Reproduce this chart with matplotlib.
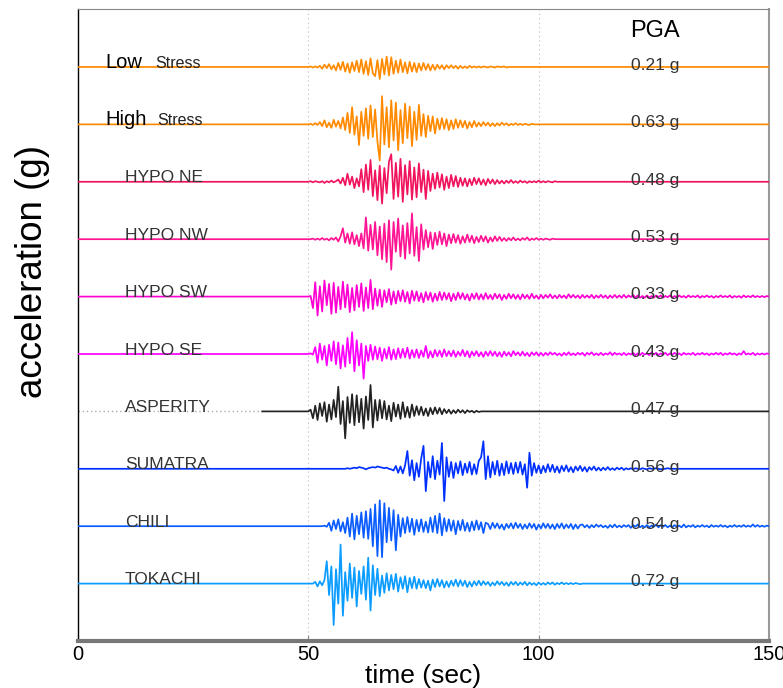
import numpy as np
import matplotlib
matplotlib.use("Agg")
import matplotlib.pyplot as plt

# ---------------- data (accelerations in hundredths of g, sampled every 0.5 s) ----------------
dt = 0.5
names = ["Low", "High", "HYPO NE", "HYPO NW", "HYPO SW", "HYPO SE",
         "ASPERITY", "SUMATRA", "CHILI", "TOKACHI"]
pga_labels = ["0.21 g", "0.63 g", "0.48 g", "0.53 g", "0.33 g", "0.43 g",
              "0.47 g", "0.56 g", "0.54 g", "0.72 g"]
colors = ["#ff8a00", "#ff8a00", "#f0145f", "#ff1493", "#ff00d2", "#ff00ff",
          "#222222", "#0030ff", "#0a5cff", "#0a9cff"]
record_start = [0, 0, 0, 0, 0, 0, 40, 0, 0, 0]
record_end = [150, 150, 150, 150, 150, 150, 150, 150, 150, 150]
window_start = [50, 50, 50, 50, 50, 50, 50, 58, 53, 51]

low_stress = [0, 1, -1, 1, -1,
              2, -3, 4, -2, 5, -4, 3, -6,
              7, -5, 9, -8, 6, -10, 8, -7,
              11, -9, 13, -12, 10, -14, 15, -11, -16, 12,
              -21, 14, -13, 18, -15, 17,
              -12, 11, -10, 13, -9, 8, -11, 9,
              -8, 7, -9, 6, -6, 7, -5, 5,
              -6, 4, -5, 4, -3, 3, -4, 3,
              -2, 3, -2, 2, -3, 2, -2, 1, -2, 2, -1, 1,
              -1, 1, -1, 1, 0, -1, 1, 0, -1, 1, 0, 0, 1, -1, 0, 0, 0, 0]
high_stress = [0, 1, -1, 2, -1,
               4, -3, 7, -5, 3, -6, 8, -4, 6, -7,
               12, -10, 20, -15, 30, -18, 14, -36, 22,
               -20, 28, -25, 33, -22, 26, -30,
               -63,
               49, -35, 30, -40, 42, -28, 38, -45, 25,
               -33, 36, -24, 31, -38, 22, -27, 34, -20,
               18, -22, 15, -12, 14, -16,
               10, -9, 11, -8, 9, -10, 7, -8, 9,
               -6, 7, -5, 6, -7, 4, -5, 6, -4, 3,
               -3, 4, -2, 3, -3, 2, -3, 2, -2, 3, -1, 2, -2, 1, -1, 2,
               -1, 1, -1, 1, 0, -1, 1, 0, 0, 0]
hypo_ne = [0, 1, -1, 1, 0, -1, 1, -2, 1, -1, 2, -1, 1,
           4, -3, 7, -6, 14, -5, 9, -11, 6, -8,
           22, -18, 30, -14, 38, -25, 20, -32, 28, -38,
           24, -20, 35, 48, -30, 33, -26, 40,
           -35, 29, -22, 36, -31, 25, -27, 32, -18, 21, -30, 19, -16,
           14, -12, 16, -10, 13, -14, 9, -11, 12, -8, 10, -9, 7,
           -7, 6, -8, 5, -6, 7, -4, 6, -5, 4, -6, 5, -3, 4, -4, 3,
           -3, 2, -3, 2, -2, 3,
           -2, 1, -2, 2, -1, 1, -2, 1, -1, 1, -1, 2, -1, 1, -1, 1, 0, -1, 1, 0, 0, 0]
hypo_nw = [0, 0, 1, -1, 1, -1, 2, -1, 1, -2, 2, -1, 3,
           -4, 5, 19, -6, 10, -8, 12, -9, 7, -12, 10,
           -16, 38, -20, 25, -18, 30, -28, 22, -35,
           27, -40, 33, -53, 30, -22, 36, -30, 24,
           -34, 28, -25, 45, -29, 21, -38, 26,
           -18, 16, -14, 12, -17, 11, -10, 13, -9, 10, -12,
           8, -7, 9, -6, 7, -8, 5, -6, 8, -5, 6, -7, 4, -5, 6, -4, 5, -6, 3, -4, 5, -3, 4, -3,
           2, -3, 2, -2, 3, -2, 1, -2, 2, -1, 3, -2, 1, -1, 2, -1, 1, -1, 1, 0, -1, 1, 0, 0]
hypo_sw = [0, 1,
           -20, 25, -33, 18, -26, 28, -15, 22, -30,
           24, -28, 17, -22, 26, -19, 21, -27, 15, -24,
           20, -18, 23, -25, 16, -20, 29, -22,
           14, -16, 12, -18, 11, -10, 13, -14, 9, -12, 10, -8,
           11, -9, 8, -12, 10, -7, 9, -8, 6, -10, 8, -6, 7, -9, 5, -7,
           8, -6, 7, -5, 6, -8, 5, -6, 7, -4, 6, -5, 4, -7, 5, -4, 6, -5,
           4, -5, 6, -4, 3, -5, 5, -3, 4, -6, 3, -4, 5, -3, 4, -4, 3, -5, 4, -3, 3, -4, 5, -3, 2, -4, 3, -3,
           3, -2, 4, -3, 2, -3, 3, -2, 2, -3, 4, -2, 3, -2, 2, -3, 3, -2, 2, -2, 3, -3,
           2, -2, 3, -2, 2, -3, 2, -2, 3, -2, 2, -2, 3, -2, 2, -1, 3, -2, 2, -2, 1, -2,
           2, -2, 1, -2, 2, -1, 2, -2, 1, -1, 2, -2, 1, -2, 2, -1, 1, -2, 2, -1, 1, -1, 2, -2, 1, -1, 2,
           -1, 1, -2, 1, -1, 2, -1, 1, -1, 2, -2, 1, -1, 1, -2, 2, -1, 1, -1, 2, -1, 1, -1, 1, -1, 1, 0]
hypo_se = [0, 1, -1,
           12, -15, 18, -10, 14, -20, 16, -12, 22, -18,
           20, -25, 15, -22, 28, -16, 38, -30, 24, -20, 18, -43,
           14, -12, 16, -10, 13, -9, 11, -12, 9, -8, 12, -10,
           8, -9, 10, -7, 9, -6, 11, -8, 7, -6, 8, -7,
           6, -5, 14, -7, 5, -6, 7, -4, 6, -5, 8, -4,
           5, -4, 6, -5, 4, -3, 7, -4, 5, -6, 4, -3, 5, -4, 3, -5, 4, -3, 5, -3,
           4, -4, 3, -5, 4, -3, 3, -4, 5, -2, 3, -3, 4, -3, 2, -4, 3, -2, 3, -3,
           2, -3, 2, -2, 3, -1, 2, -2, 1, -3, 2, -2, 3, -2, 1, -2, 2, -1, 2, -3,
           2, -1, 3, -2, 1, -2, 2, -2, 1, -1, 3, -2, 2, -1, 1, -2, 2, -2, 1, -1,
           2, -2, 1, -2, 2, -1, 1, -2, 3, -1, 2, -2, 1, -1, 2, -2, 1, -1, 2, -1,
           1, -2, 2, -1, 1, -1, 2, -2, 1, -1, 2, -1, 1, -2, 1, -1, 2, -1, 2, -2,
           1, -1, 2, -1, 1, -2, 1, -1, 5, -1, 1, -1, 2, -2, 1, -1, 1, -1, 1, 0]
asperity = [0, 3,
            -12, 10, -15, 14, -8, 16, -18, 12, -14, 20, -10,
            43, -22, 18, -47, 25, -20, 30, -24,
            28, -19, 22, -30, 26, -15, 46, -28, 20,
            -16, 20, -12, 18, -14, 10, -17, 15, -9, 12, -13, 16, -10, 8, -11, 12,
            -8, 9, -6, 8, -7, 5, -8, 6, -5, 7, -4, 6, -5, 4, -3,
            3, -4, 2, -3, 3, -2, 2, -3, 2, -1, 1, -2, 1, -1, 0, 0]
sumatra = [0, 1, 0, 1, 2, 1, 3, 2, 1, -1, 1, 2, 3, 2, 4, 3, 2, 1, 2, 0, -1,
           -3, 5, -7, 4, -8, 6,
           31, -12, 15, -20, 10, -14, 18,
           40, -39, 12, -15, 22, -18, 14, -10,
           45, -56,
           20, -14, 12, -16, 10, -8, 13, -11, 9, -7, 12, -10, 8, -9, 14, 20,
           48, -18, 22, -15, 12, -10, 14, -12, 9, -11, 13, -8, 10, -9, 11, -7, 12, -10, 8, -33, 28, -12, 10,
           -7, 6, -8, 5, -6, 8, -5, 7, -6, 4, -7, 5, -4, 6, -5, 3, -6, 4, -3, 5, -4, 3, -5, 3, -2, 4,
           -3, 2, -3, 2, -2, 3, -2, 1, -2, 2, -1, 2, -2, 1, -1, 1,
           -1, 1, 0, -1, 1, 0, -1, 1, 0, 0, 1, 0, -1, 0, 0, 1, 0, 0, 0, 0]
chili = [0, 1, -1,
         6, -8, 10, -5, 12, -9, 7, -12,
         15, -18, 22, -23, 18, -14, 24, -20,
         26, -22, 30, -35, 38, -52, 45, -54,
         40, -28, 32, -25, 28, -42, 20, -18,
         14, -12, 16, -10, 13, -15, 11, -9, 12, -10, 8, -11,
         15, -10, 18, -12, 22, -16, 14, -9,
         12, -8, 10, -14, 9, -7, 11, -8, 6, -9, 8, -7, 10, -6, 7, -12, 6,
         4, -5, 6, -3, 5, -4, 3, -6, 4, -3, 5, -4, 6, -3, 4, -5, 3, -4, 5, -3,
         4, -6, 3, -4, 5, -3, 4, -4, 3, -5, 4, -3, 5, -4, 3, -3, 4, -5, 3, -4, 2,
         3, -2, 2, -3, 2, -2, 3, -1, 2, -2, 1, -3, 2, -2, 3, -2, 1, -2, 2, -1,
         2, -3, 2, -1, 3, -2, 1, -2, 2, -2, 1, -1, 3, -2, 2, -1, 2, -2, 1, -2,
         2, -1, 1, -2, 3, -2, 1, -1, 2, -2, 1, -1, 2, -1, 1, -2, 2, -1, 1, -1,
         2, -1, 1, -2, 1, -1, 2, -1, 1, -1, 2, -1, 1, -1, 3, -1, 2, -1, 1, -1,
         1, 0]
tokachi = [0, 3, -5, 4, -3, 6,
           39, -20, 30, -72, 25, -35, 68, -56,
           20, -30, 35, -25, 28, -40, 22, -18, 30, -28, 45, -47, 32, -20, 26, -22,
           14, -16, 18, -12, 15, -10, 17, -14, 11, -9, 13, -15, 10, -8, 12, -9, 8,
           -7, 6, -8, 5, -12, 7, -6, 8, -5, 6, -7, 4, -6, 5, -4, 7, -5, 6, -4, 5, -6, 3, -5, 4, -3, 5,
           -3, 4, -2, 3, -4, 2, -3, 4, -2, 3, -3, 2, -4, 3, -2, 3, -3, 2, -2, 3, -3, 2, -2, 1,
           -3, 2, -2, 1, -2, 2, -1, 2, -2, 1, -1, 2, -1, 1, -1, 1, -1, 1, 0, -1, 0, 0]

traces = [low_stress, high_stress, hypo_ne, hypo_nw, hypo_sw, hypo_se,
          asperity, sumatra, chili, tokachi]

x_ticks = [0, 50, 100, 150]

# ---------------- fonts ----------------
plt.rcParams["font.family"] = ["Liberation Sans", "DejaVu Sans"]

# ---------------- figure ----------------
fig = plt.figure(figsize=(7.83, 6.88), dpi=100)
ax = fig.add_axes([78 / 783, 1 - 641 / 688, (769 - 78) / 783, (641 - 9) / 688])

for i, vals in enumerate(traces):
    v = np.asarray(vals, dtype=float) / 100.0
    t = window_start[i] + dt * np.arange(len(v))
    tt = np.concatenate([[record_start[i]], t, [record_end[i]]])
    yy = np.concatenate([[0.0], v, [0.0]]) - i
    ax.plot(tt, yy, color=colors[i], lw=1.25, zorder=3)
    if record_start[i] > 0:
        ax.plot([0, record_start[i]], [-i, -i], color="#aaaaaa", lw=1.0,
                linestyle=(0, (1, 2)), zorder=2)

# labels
for i, nm in enumerate(names):
    if i < 2:
        ax.text(5.9, -i - 0.01, nm, fontsize=14.5, ha="left", va="baseline", color="black", zorder=4)
        ax.text(16.8 if i == 0 else 17.1, -i - 0.01, "Stress", fontsize=11.5, ha="left",
                va="baseline", color="#222222", zorder=4)
    else:
        ax.text(10.2, -i - 0.01, nm, fontsize=12.5, ha="left", va="baseline",
                color="#333333", zorder=4)
    ax.text(120.0, -i - 0.05, pga_labels[i], fontsize=12.5, ha="left", va="baseline",
            color="#333333", zorder=4)

ax.text(125.3, 0.52, "PGA", fontsize=17, ha="center", va="baseline", color="black")

ax.set_xlim(0, 150)
ax.set_ylim(-10.0, 1.01)
ax.set_yticks([])
ax.set_xticks(x_ticks)
ax.set_xticklabels([str(v) for v in x_ticks], fontsize=14.5)
ax.tick_params(axis="x", direction="in", length=4, color="#888888", pad=3)
for xv in x_ticks[1:-1]:
    ax.axvline(xv, color="#bbbbbb", lw=0.8, linestyle=(0, (1, 3)), zorder=1)

ax.spines["left"].set_color("black")
ax.spines["left"].set_linewidth(1.0)
ax.spines["top"].set_color("#888888")
ax.spines["top"].set_linewidth(0.8)
ax.spines["right"].set_color("#999999")
ax.spines["right"].set_linewidth(1.5)
ax.spines["bottom"].set_color("#777777")
ax.spines["bottom"].set_linewidth(3.0)

ax.set_xlabel("time (sec)", fontsize=19, labelpad=0)
fig.text(33 / 783, 1 - 272 / 688, "acceleration (g)", rotation=90, ha="center", va="center",
         fontsize=26.5)

fig.savefig("out.png", dpi=100)
